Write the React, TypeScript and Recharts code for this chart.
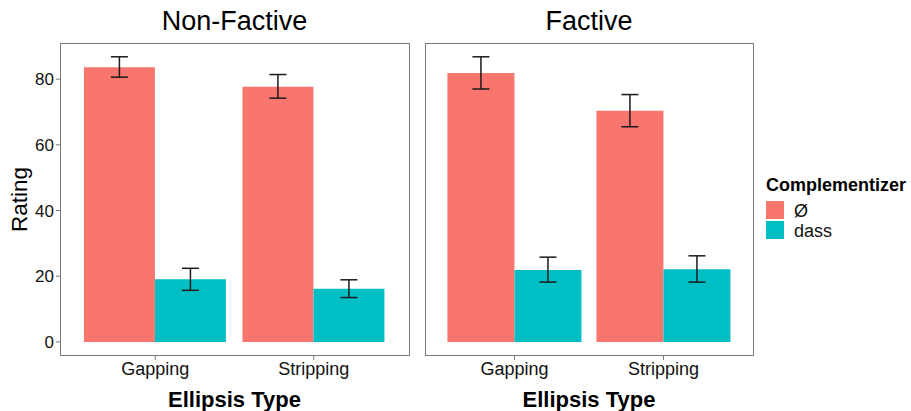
import { BarChart, Bar, XAxis, YAxis, ErrorBar, Label } from "recharts"

const FONT = '"Liberation Sans", Arial, sans-serif'
const ZERO_COLOR = "#F8766D"
const DASS_COLOR = "#00BFC4"
const BORDER_COLOR = "#7a7a7a"
const TEXT_COLOR = "#111111"

const categories = ["Gapping", "Stripping"]
const yTicks = [0, 20, 40, 60, 80]
const yDomain = [-4.3, 91]

// Non-Factive panel
const nonFactiveZero = [83.6, 77.7]
const nonFactiveZeroLow = [80.6, 74.2]
const nonFactiveZeroHigh = [86.8, 81.4]
const nonFactiveDass = [19.1, 16.2]
const nonFactiveDassLow = [15.7, 13.5]
const nonFactiveDassHigh = [22.4, 18.9]

// Factive panel
const factiveZero = [81.9, 70.4]
const factiveZeroLow = [77.0, 65.5]
const factiveZeroHigh = [86.8, 75.3]
const factiveDass = [21.9, 22.1]
const factiveDassLow = [18.2, 18.2]
const factiveDassHigh = [25.8, 26.2]

type Row = {
  category: string
  zero: number
  zeroErr: [number, number]
  dass: number
  dassErr: [number, number]
}

function buildRows(
  zero: number[],
  zeroLow: number[],
  zeroHigh: number[],
  dass: number[],
  dassLow: number[],
  dassHigh: number[]
): Row[] {
  return categories.map((category, i) => ({
    category,
    zero: zero[i],
    zeroErr: [zero[i] - zeroLow[i], zeroHigh[i] - zero[i]],
    dass: dass[i],
    dassErr: [dass[i] - dassLow[i], dassHigh[i] - dass[i]],
  }))
}

const nonFactiveRows = buildRows(
  nonFactiveZero,
  nonFactiveZeroLow,
  nonFactiveZeroHigh,
  nonFactiveDass,
  nonFactiveDassLow,
  nonFactiveDassHigh
)

const factiveRows = buildRows(
  factiveZero,
  factiveZeroLow,
  factiveZeroHigh,
  factiveDass,
  factiveDassLow,
  factiveDassHigh
)

type PanelProps = {
  rows: Row[]
  left: number
  width: number
  marginLeft: number
  padding: number
  showYAxis: boolean
}

function Panel({ rows, left, width, marginLeft, padding, showYAxis }: PanelProps) {
  return (
    <div style={{ position: "absolute", left, top: 0 }}>
      <BarChart
        width={width}
        height={411}
        data={rows}
        margin={{ top: 43, right: 11, bottom: 0, left: marginLeft }}
        barGap={0}
        barCategoryGap="5%"
      >
        <XAxis
          dataKey="category"
          height={55}
          padding={{ left: padding, right: padding }}
          axisLine={false}
          tickLine={{ stroke: BORDER_COLOR }}
          tickSize={4}
          tick={{ fontSize: 18, fill: TEXT_COLOR, fontFamily: FONT }}
        >
          <Label
            value="Ellipsis Type"
            position="insideBottom"
            offset={4}
            style={{
              fontSize: 22,
              fontWeight: "bold",
              fill: "#000",
              fontFamily: FONT,
            }}
          />
        </XAxis>
        <YAxis
          hide={!showYAxis}
          width={60}
          domain={yDomain}
          ticks={yTicks}
          allowDataOverflow
          axisLine={false}
          tickLine={{ stroke: BORDER_COLOR }}
          tickSize={4}
          tick={{ fontSize: 17, fill: TEXT_COLOR, fontFamily: FONT }}
        />
        <Bar dataKey="zero" fill={ZERO_COLOR} isAnimationActive={false}>
          <ErrorBar
            dataKey="zeroErr"
            direction="y"
            width={8.5}
            stroke="#1a1a1a"
            strokeWidth={1.5}
            isAnimationActive={false}
          />
        </Bar>
        <Bar dataKey="dass" fill={DASS_COLOR} isAnimationActive={false}>
          <ErrorBar
            dataKey="dassErr"
            direction="y"
            width={8.5}
            stroke="#1a1a1a"
            strokeWidth={1.5}
            isAnimationActive={false}
          />
        </Bar>
      </BarChart>
    </div>
  )
}

function PanelBorder({ left, width }: { left: number; width: number }) {
  return (
    <div
      style={{
        position: "absolute",
        left,
        top: 43,
        width,
        height: 313,
        border: `1px solid ${BORDER_COLOR}`,
        boxSizing: "border-box",
        pointerEvents: "none",
      }}
    />
  )
}

export default function App() {
  return (
    <div
      style={{
        position: "absolute",
        left: 0,
        top: 0,
        width: 911,
        height: 411,
        background: "#fff",
        fontFamily: FONT,
      }}
    >
      <Panel rows={nonFactiveRows} left={0} width={420} marginLeft={0} padding={16} showYAxis />
      <Panel rows={factiveRows} left={415} width={349} marginLeft={10} padding={15} showYAxis={false} />
      <PanelBorder left={60} width={350} />
      <PanelBorder left={425} width={329} />

      <svg
        width={911}
        height={411}
        style={{ position: "absolute", left: 0, top: 0, pointerEvents: "none" }}
      >
        <text x={234.5} y={30} textAnchor="middle" fontSize={27} fill="#000" fontFamily={FONT}>
          Non-Factive
        </text>
        <text x={589} y={30} textAnchor="middle" fontSize={27} fill="#000" fontFamily={FONT}>
          Factive
        </text>
        <text
          x={0}
          y={0}
          transform="translate(27 199.5) rotate(-90)"
          textAnchor="middle"
          fontSize={22.5}
          fill="#000"
          fontFamily={FONT}
        >
          Rating
        </text>

        <text x={766} y={191} fontSize={18} fontWeight="bold" fill="#000" fontFamily={FONT}>
          Complementizer
        </text>
        <rect x={766} y={201} width={18} height={18} fill={ZERO_COLOR} />
        <rect x={766} y={221} width={18} height={18} fill={DASS_COLOR} />
        <text x={794} y={216.5} fontSize={18} fill={TEXT_COLOR} fontFamily={FONT}>
          Ø
        </text>
        <text x={794} y={236.5} fontSize={18} fill={TEXT_COLOR} fontFamily={FONT}>
          dass
        </text>
      </svg>
    </div>
  )
}
